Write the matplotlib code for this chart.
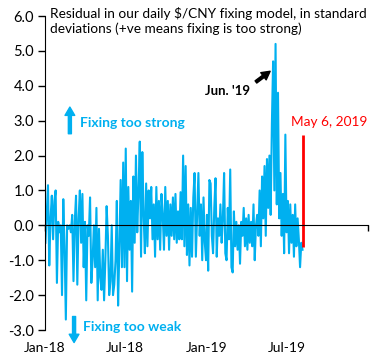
import numpy as np
import pandas as pd
import matplotlib

matplotlib.use("Agg")
import matplotlib.pyplot as plt

plt.rcParams["font.family"] = ["Lato", "DejaVu Sans"]

# residuals (std devs), roughly every other fixing day
resid_2018 = [
    -0.5, 0.3, 1.15, -1.15, 0.2, 0.85, -0.4, 0.7, 1.0, -1.65, 0.1,
    -0.2, 0.0, -2.0, 0.75, -0.6, -2.7, 0.0, -0.1, 0.0, -0.2,
    0.3, -1.6, 0.1, 0.85, -1.7, 0.2, 1.0, -0.5, 0.9, -1.2, 0.1,
    -2.15, 0.0, -0.3, 0.8, -1.65, -1.0, 0.0, -1.2, 0.5, -2.15,
    -0.1, -1.5, -1.85, -0.7, -2.15, -1.0, 0.55, -0.3, -2.0, -1.6, 0.0,
    -2.0, -1.7, -1.0, 0.7, -2.3, -0.6, 1.3, -1.2, 1.8, -1.2,
    2.2, -1.6, 1.1, -0.7, 0.7, -1.9, 1.4, -0.5, 2.0, -0.2, 1.0,
    2.4, -0.9, 2.1, 0.3, -0.8, 1.2, -0.6, 1.0, 0.2, 1.1, -0.4,
    0.6, -0.9, 1.1, -0.4, 0.7, -0.7, 0.9, 0.3, -0.7, 1.1, -0.3,
    0.7, -0.7, 0.6, -0.3, 0.8, -0.4, 0.9, -0.5, 0.4, -0.4,
    0.95, -0.4, 2.0, -0.6, 1.7, -0.85, 0.6, -1.15, 0.5, -0.9, 0.8,
    1.5, -0.9, 0.3, 1.5, -0.3, 0.6, -1.0, 0.8, -0.5, -1.0,
]
resid_2019 = [
    0.3, -1.3, 1.3, 1.2, -0.3, -0.8, 0.5, 1.35, -0.9, 0.2, -0.3,
    0.6, -0.5, 0.2, 1.5, -0.8, -1.0, 0.5, -0.4, 1.6, -1.2,
    -1.35, 0.4, -0.6, 0.1, -0.7, 0.0, -1.1, 0.1, -0.3, 0.5, -0.6,
    0.2, -0.7, 0.3, -0.5, 0.1, -0.6, 0.6, -1.0, 0.0, 0.3,
    -0.3, 1.0, -0.6, 1.4, 0.2, 1.7, -0.3, 1.9, 0.5, 2.0,
    0.3, 2.9, 4.7, 1.0, 5.2, 0.6, 3.8, 0.2, 1.5, -0.3, 0.9, -0.8,
    2.6, -0.2, 0.7, -0.8, 0.6, -0.5, 0.3, -0.9, 0.6, -0.6, 0.2, -0.4,
    -1.2, -0.5, -0.7,
]

dates_2018 = pd.date_range("2018-01-02", "2018-12-31", periods=len(resid_2018))
dates_2019 = pd.date_range("2019-01-02", "2019-08-06", periods=len(resid_2019))
dates = dates_2018.append(dates_2019)
resid = np.array(resid_2018 + resid_2019)

marker_date = pd.Timestamp("2019-08-06")
marker_range = (-0.63, 2.58)
marker_label = "May 6, 2019"

tick_dates = pd.to_datetime(["2018-01-01", "2018-07-01", "2019-01-01", "2019-07-01", "2020-01-01"])
tick_labels = ["Jan-18", "Jul-18", "Jan-19", "Jul-19", ""]

blue = "#00B0F0"
red = "#FF0000"

fig = plt.figure(figsize=(3.83, 3.60), dpi=100)
ax = fig.add_axes([45 / 383, 30 / 360, 323 / 383, 314 / 360])

ax.plot(dates, resid, color=blue, lw=1.5)
ax.vlines(marker_date, *marker_range, color=red, lw=2)

ax.set_ylim(-3, 6)
ax.set_xlim(tick_dates[0], tick_dates[-1])
ax.set_yticks(np.arange(-3, 7, 1))
ax.yaxis.set_major_formatter(plt.FormatStrFormatter("%.1f"))
ax.tick_params(axis="y", direction="out", length=5, width=1, labelsize=10.5, pad=3)

ax.spines["top"].set_visible(False)
ax.spines["right"].set_visible(False)
ax.spines["bottom"].set_position(("data", 0))
ax.set_xticks(tick_dates)
ax.tick_params(axis="x", direction="out", length=4, width=1, labelbottom=False)

# category labels sit at the bottom of the plot, not on the zero line
sec = ax.secondary_xaxis(0)
sec.set_xticks(tick_dates[:-1])
sec.set_xticklabels(tick_labels[:-1])
sec.spines["bottom"].set_visible(False)
sec.tick_params(length=0, labelsize=10, pad=9)

ax.text(0.015, 1.03,
        "Residual in our daily $/CNY fixing model, in standard\n"
        "deviations (+ve means fixing is too strong)",
        transform=ax.transAxes, ha="left", va="top", fontsize=9.8,
        linespacing=1.25)

ax.annotate("", xy=(0.077, 0.710), xytext=(0.077, 0.625), xycoords="axes fraction",
            arrowprops=dict(width=2.2, headwidth=7, headlength=6, color=blue, shrink=0))
ax.text(0.108, 0.659, "Fixing too strong", transform=ax.transAxes,
        ha="left", va="center", color=blue, fontsize=10, fontweight="bold")

ax.annotate("", xy=(0.090, -0.040), xytext=(0.090, 0.043), xycoords="axes fraction",
            arrowprops=dict(width=2.2, headwidth=7, headlength=6, color=blue, shrink=0))
ax.text(0.118, 0.010, "Fixing too weak", transform=ax.transAxes,
        ha="left", va="center", color=blue, fontsize=10, fontweight="bold")

ax.annotate("", xy=(0.697, 0.824), xytext=(0.653, 0.790), xycoords="axes fraction",
            arrowprops=dict(width=2, headwidth=6.5, headlength=6, color="black", shrink=0))
ax.text(0.635, 0.761, "Jun. '19", transform=ax.transAxes,
        ha="right", va="center", color="black", fontsize=9.5, fontweight="bold")

ax.text(0.762, 0.662, marker_label, transform=ax.transAxes,
        ha="left", va="center", color=red, fontsize=9.8)

fig.savefig("out.png", dpi=100)
